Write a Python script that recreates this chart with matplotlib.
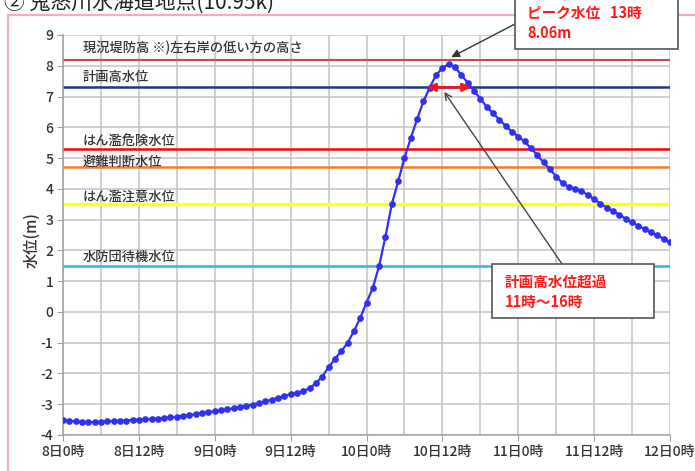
import matplotlib.pyplot as plt
from matplotlib.patches import Rectangle

plt.rcParams['font.family'] = ['Noto Sans CJK JP', 'DejaVu Sans']
plt.rcParams['axes.unicode_minus'] = False

# 時間(8日0時からの経過時間) と 水位
hours = list(range(0, 97))
water_level = [
    -3.52, -3.54, -3.56, -3.58, -3.58, -3.58, -3.57, -3.56, -3.55, -3.54,
    -3.53, -3.51, -3.50, -3.49, -3.48, -3.47, -3.45, -3.43, -3.41, -3.38,
    -3.35, -3.32, -3.29, -3.26, -3.23, -3.20, -3.17, -3.13, -3.09, -3.05,
    -3.01, -2.96, -2.91, -2.85, -2.79, -2.73, -2.68, -2.63, -2.57, -2.48,
    -2.32, -2.10, -1.80, -1.53, -1.28, -1.01, -0.63, -0.20, 0.30, 0.78,
    1.50, 2.45, 3.50, 4.24, 5.00, 5.65, 6.26, 6.84, 7.29, 7.70,
    7.92, 8.06, 7.95, 7.70, 7.45, 7.19, 6.93, 6.67, 6.46, 6.25,
    6.05, 5.86, 5.70, 5.54, 5.32, 5.10, 4.86, 4.64, 4.40, 4.19,
    4.06, 4.01, 3.92, 3.81, 3.66, 3.52, 3.39, 3.28, 3.16, 3.03,
    2.91, 2.80, 2.69, 2.59, 2.49, 2.38, 2.27,
]

# 基準水位
ref_names = ['現況堤防高 ※)左右岸の低い方の高さ', '計画高水位', 'はん濫危険水位',
             '避難判断水位', 'はん濫注意水位', '水防団待機水位']
ref_levels = [8.2, 7.3, 5.3, 4.7, 3.5, 1.5]
ref_colors = ['#C0504D', '#1F3A7A', '#FF0000', '#F07F2A', '#FFFF20', '#33B5E8']
ref_widths = [1.5, 1.8, 1.8, 1.8, 2.5, 1.8]
label_offsets = [3, 2.5, 0, -1, 0, 1.5]

xtick_pos = list(range(0, 97, 12))
xtick_labels = ['8日0時', '8日12時', '9日0時', '9日12時', '10日0時',
                '10日12時', '11日0時', '11日12時', '12日0時']

W, H = 695, 471
def px(x, y):
    return (x / W, 1 - y / H)

fig = plt.figure(figsize=(W / 100, H / 100), dpi=100)
ax = fig.add_axes([63 / W, 1 - 435 / H, (670 - 63) / W, (435 - 35) / H])

ax.set_xlim(0, 96)
ax.set_ylim(-4, 9)
ax.set_yticks(range(-4, 10))
ax.set_xticks(xtick_pos)
ax.set_xticklabels(xtick_labels)
ax.set_xticks(range(0, 97, 6), minor=True)
ax.grid(True, which='both', color='#C4C4C4', lw=1.1)
ax.set_axisbelow(True)
for s in ['top', 'right']:
    ax.spines[s].set_visible(False)
for s in ['left', 'bottom']:
    ax.spines[s].set_color('#A0A0A0')
    ax.spines[s].set_linewidth(1.1)
ax.tick_params(axis='both', which='major', length=4, color='#A0A0A0',
               labelsize=10, labelcolor='#333333', pad=3)
ax.tick_params(axis='x', which='minor', length=0)
for lab in ax.get_xticklabels() + ax.get_yticklabels():
    lab.set_fontweight('medium')

for name, lev, c, lw, off in zip(ref_names, ref_levels, ref_colors, ref_widths, label_offsets):
    ax.axhline(lev, color=c, lw=lw, zorder=2)
    ax.annotate(name, xy=(3.1, lev), xytext=(0, off), textcoords='offset points',
                va='bottom', ha='left', fontsize=9.5, color='#333333',
                fontweight='medium')

ax.plot(hours, water_level, color='#3030F5', lw=1.6, marker='o', ms=3.8, zorder=4)

# 計画高水位超過の両矢印
ax.annotate('', xy=(57.6, 7.3), xytext=(64.5, 7.3),
            arrowprops=dict(arrowstyle='<|-|>', color='#FF1010', lw=1.8,
                            mutation_scale=12, shrinkA=0, shrinkB=0), zorder=5)

# ピーク水位の吹き出し
fig.patches.append(Rectangle(px(515, 49), (678 - 515) / W, 60 / H,
                             transform=fig.transFigure, facecolor='white',
                             edgecolor='#555555', lw=1.2, zorder=6))
fig.text(*px(527, 13), 'ピーク水位   13時', color='#FF1A1A', fontsize=10.5,
         fontweight='bold', va='center', zorder=7)
fig.text(*px(527, 33), '8.06m', color='#FF1A1A', fontsize=10.5,
         fontweight='bold', va='center', zorder=7)
ax.annotate('', xy=(61.4, 8.28), xycoords='data',
            xytext=px(515, 24), textcoords='figure fraction',
            arrowprops=dict(arrowstyle='-|>', color='#333333', lw=1,
                            mutation_scale=12, shrinkA=0, shrinkB=0))

# 計画高水位超過の吹き出し
fig.patches.append(Rectangle(px(492, 318), (654 - 492) / W, 54 / H,
                             transform=fig.transFigure, facecolor='white',
                             edgecolor='#555555', lw=1.2, zorder=6))
fig.text(*px(505, 282), '計画高水位超過', color='#FF1A1A', fontsize=10.5,
         fontweight='bold', va='center', zorder=7)
fig.text(*px(505, 302), '11時～16時', color='#FF1A1A', fontsize=10.5,
         fontweight='bold', va='center', zorder=7)
ax.annotate('', xy=(60.3, 7.15), xycoords='data',
            xytext=px(562, 264), textcoords='figure fraction',
            arrowprops=dict(arrowstyle='->', color='#444444', lw=1,
                            mutation_scale=12, shrinkA=0, shrinkB=0))

fig.text(*px(32, 240), '水位(m)', rotation=90, fontsize=11, color='#333333',
         ha='center', va='center', fontweight='medium')

# 枠とタイトル
fig.patches.append(Rectangle(px(8, 520), 1, 505 / H, transform=fig.transFigure,
                             fill=False, edgecolor='#F7A8CF', lw=1.6, zorder=0))
fig.text(*px(4, 9), '② 鬼怒川水海道地点(10.95k)', fontsize=15, color='#222222',
         va='baseline', ha='left')

fig.savefig('out.png', dpi=100)
